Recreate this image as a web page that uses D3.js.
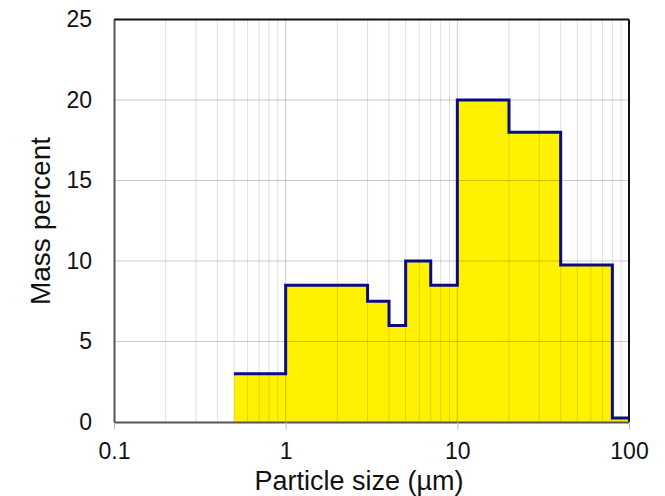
<!DOCTYPE html>
<html>
<head>
<meta charset="utf-8">
<script src="https://cdn.jsdelivr.net/npm/d3@7"></script>
<style>
  html, body { margin: 0; padding: 0; background: #fff; }
  svg { display: block; font-family: "Liberation Sans", Arial, sans-serif; }
</style>
</head>
<body>
<svg id="chart" width="665" height="496"></svg>
<script>
// Size-class boundaries (µm) and the mass percent held in each class
const binEdges = [0.5, 1, 3, 4, 5, 7, 10, 20, 40, 80, 100];
const massPercent = [3, 8.5, 7.5, 6, 10, 8.5, 20, 18, 9.75, 0.25];

const xTickValues = [0.1, 1, 10, 100];
const xTickLabels = ["0.1", "1", "10", "100"];
const yTickValues = [0, 5, 10, 15, 20, 25];

const width = 665, height = 496;
const margin = { left: 114, right: 36, top: 19.5, bottom: 74 };
const plotW = width - margin.left - margin.right;
const plotH = height - margin.top - margin.bottom;

const svg = d3.select("#chart");
const g = svg.append("g").attr("transform", `translate(${margin.left},${margin.top})`);

const x = d3.scaleLog().domain([0.1, 100]).range([0, plotW]);
const y = d3.scaleLinear().domain([0, 25]).range([plotH, 0]);

// Steps: each class value holds until the next boundary, last value runs to 100 µm
const steps = massPercent.map((v, i) => ({ d: binEdges[i], v }));
steps.push({ d: binEdges[binEdges.length - 1], v: massPercent[massPercent.length - 1] });

// Filled histogram area
const area = d3.area()
  .x(p => x(p.d))
  .y0(y(0))
  .y1(p => y(p.v))
  .curve(d3.curveStepAfter);

g.append("path")
  .datum(steps)
  .attr("d", area)
  .attr("fill", "#fff200");

// Grid: minor decade lines on the log axis, horizontal lines every 5 %
const minorTicks = [];
for (let dec = 0.1; dec < 100; dec *= 10) {
  for (let k = 2; k <= 9; k++) minorTicks.push(+(dec * k).toPrecision(3));
}
g.append("g").selectAll("line")
  .data(minorTicks)
  .join("line")
  .attr("x1", d => x(d)).attr("x2", d => x(d))
  .attr("y1", 0).attr("y2", plotH)
  .attr("stroke", "#000")
  .attr("stroke-opacity", 0.12)
  .attr("stroke-width", 1);

g.append("g").selectAll("line")
  .data([1, 10])
  .join("line")
  .attr("x1", d => x(d)).attr("x2", d => x(d))
  .attr("y1", 0).attr("y2", plotH)
  .attr("stroke", "#000")
  .attr("stroke-opacity", 0.2)
  .attr("stroke-width", 1);

g.append("g").selectAll("line")
  .data(yTickValues.filter(v => v > 0 && v < 25))
  .join("line")
  .attr("x1", 0).attr("x2", plotW)
  .attr("y1", d => y(d)).attr("y2", d => y(d))
  .attr("stroke", "#000")
  .attr("stroke-opacity", 0.2)
  .attr("stroke-width", 1);

// Step outline
const line = d3.line()
  .x(p => x(p.d))
  .y(p => y(p.v))
  .curve(d3.curveStepAfter);

g.append("path")
  .datum(steps)
  .attr("d", line)
  .attr("fill", "none")
  .attr("stroke", "#0a0a8c")
  .attr("stroke-width", 3)
  .attr("stroke-linejoin", "miter");

// Frame: dark top/right border, grey axes on left/bottom
g.append("line").attr("x1", 0).attr("x2", plotW).attr("y1", 0).attr("y2", 0)
  .attr("stroke", "#111").attr("stroke-width", 2);
g.append("line").attr("x1", plotW).attr("x2", plotW).attr("y1", 0).attr("y2", plotH)
  .attr("stroke", "#111").attr("stroke-width", 2);

// X axis
const xAxis = d3.axisBottom(x)
  .tickValues(xTickValues)
  .tickFormat((d, i) => xTickLabels[i])
  .tickSizeInner(7)
  .tickSizeOuter(0)
  .tickPadding(14);
const gx = g.append("g").attr("transform", `translate(0,${plotH})`).call(xAxis);
gx.select(".domain").attr("stroke", "#555").attr("stroke-width", 2);
gx.selectAll(".tick line").attr("stroke", "#bbb").attr("stroke-width", 1);
gx.selectAll(".tick text").attr("font-size", 23).attr("fill", "#111")
  .attr("font-family", "Liberation Sans, Arial, sans-serif");

// Y axis
const yAxis = d3.axisLeft(y)
  .tickValues(yTickValues)
  .tickSize(0)
  .tickPadding(22);
const gy = g.append("g").call(yAxis);
gy.select(".domain").attr("stroke", "#555").attr("stroke-width", 2);
gy.selectAll(".tick text").attr("font-size", 23).attr("fill", "#111")
  .attr("font-family", "Liberation Sans, Arial, sans-serif");

// Axis titles
svg.append("text")
  .attr("x", 359).attr("y", 490)
  .attr("text-anchor", "middle")
  .attr("font-size", 27)
  .attr("fill", "#111")
  .text("Particle size (µm)");

svg.append("text")
  .attr("transform", "translate(50,221) rotate(-90)")
  .attr("text-anchor", "middle")
  .attr("font-size", 28)
  .attr("fill", "#111")
  .text("Mass percent");
</script>
</body>
</html>
